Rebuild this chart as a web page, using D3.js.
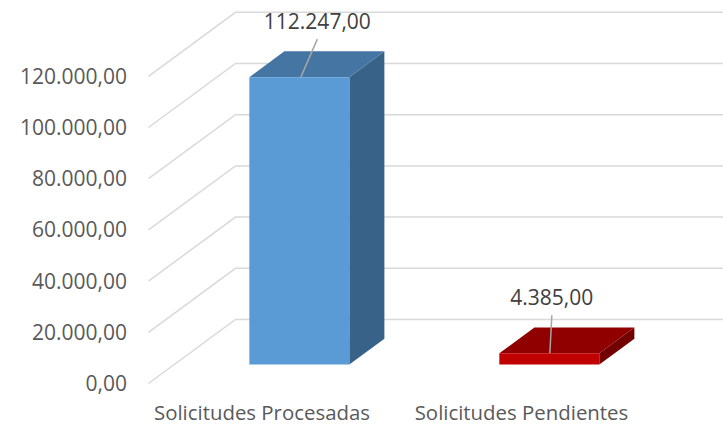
<!DOCTYPE html>
<html>
<head>
<meta charset="utf-8">
<script src="https://cdn.jsdelivr.net/npm/d3@7"></script>
<style>
  html, body { margin: 0; padding: 0; background: #ffffff; }
  svg { display: block; }
</style>
</head>
<body>
<svg id="chart" width="723" height="425"></svg>
<script>
// ---- data ----
const categories = ["Solicitudes Procesadas", "Solicitudes Pendientes"];
const values = [112247, 4385];
const yTicks = [0, 20000, 40000, 60000, 80000, 100000, 120000];
const yTickLabels = ["0,00", "20.000,00", "40.000,00", "60.000,00", "80.000,00", "100.000,00", "120.000,00"];
const valueLabels = ["112.247,00", "4.385,00"];

// ---- layout ----
const W = 723, H = 425;
const DX = 87, DY = 64;          // depth vector (front -> back wall)
const T0 = 0.297, T1 = 0.70;     // bar depth range
const FONT = "'Open Sans', 'Noto Sans', sans-serif";

const svg = d3.select("#chart");

const y = d3.scaleLinear().domain([0, 120000]).range([383.5, 76.3]);
const x = d3.scaleBand().domain(categories).range([148.5, 648.5])
  .paddingInner(0.6).paddingOuter(0.3);

const proj = (px, v, t) => [px + t * DX, y(v) - t * DY];

// ---- gridlines (side wall diagonals + back wall horizontals) ----
const x0 = x.range()[0];
const grid = svg.append("g").attr("fill", "none").attr("stroke", "#d9d9d9").attr("stroke-width", 1.5);
yTicks.forEach(v => {
  const a = proj(x0, v, 0), b = proj(x0, v, 1);
  grid.append("path").attr("d", d3.line()([a, b, [W + 5, b[1]]]));
});

// ---- y tick labels ----
svg.append("g").selectAll("text").data(yTicks).join("text")
  .attr("x", 127)
  .attr("y", d => y(d) + 7.5)
  .attr("text-anchor", "end")
  .attr("font-family", FONT)
  .attr("font-size", 21)
  .attr("fill", "#595959")
  .text((d, i) => yTickLabels[i]);

// ---- bars ----
const palettes = [
  { front: "#5b9bd5", top: "#4575a3", side: "#386287" },
  { front: "#c00000", top: "#900000", side: "#720000" }
];
const bars = svg.append("g");
categories.forEach((c, i) => {
  const v = values[i];
  const xl = x(c), xr = x(c) + x.bandwidth();
  const p = palettes[i];
  const fbl = proj(xl, 0, T0), fbr = proj(xr, 0, T0), ftl = proj(xl, v, T0), ftr = proj(xr, v, T0);
  const bbr = proj(xr, 0, T1), btl = proj(xl, v, T1), btr = proj(xr, v, T1);
  const poly = pts => "M" + pts.map(q => q.join(",")).join("L") + "Z";
  bars.append("path").attr("d", poly([fbr, ftr, btr, bbr])).attr("fill", p.side);
  bars.append("path").attr("d", poly([ftl, ftr, btr, btl])).attr("fill", p.top);
  bars.append("path").attr("d", poly([fbl, fbr, ftr, ftl])).attr("fill", p.front);
});

// ---- value labels with leader lines ----
const labelShift = [18, 2.5];
const labels = svg.append("g");
categories.forEach((c, i) => {
  const cx = x(c) + x.bandwidth() / 2;
  const top = proj(cx, values[i], T0);
  const lx = top[0] + labelShift[i];
  labels.append("line")
    .attr("x1", lx).attr("y1", top[1] - 38)
    .attr("x2", top[0] + (i === 0 ? 1.5 : 0.5)).attr("y2", top[1])
    .attr("stroke", "#a6a6a6").attr("stroke-width", 1.5);
  labels.append("text")
    .attr("x", lx).attr("y", top[1] - 48)
    .attr("text-anchor", "middle")
    .attr("font-family", FONT).attr("font-size", 21)
    .attr("fill", "#404040")
    .text(valueLabels[i]);
});

// ---- category labels ----
const catShift = [-11.5, -2];
svg.append("g").selectAll("text").data(categories).join("text")
  .attr("x", (d, i) => x(d) + x.bandwidth() / 2 + catShift[i])
  .attr("y", 419.5)
  .attr("text-anchor", "middle")
  .attr("font-family", FONT)
  .attr("font-size", 20.4)
  .attr("fill", "#595959")
  .text(d => d);
</script>
</body>
</html>
